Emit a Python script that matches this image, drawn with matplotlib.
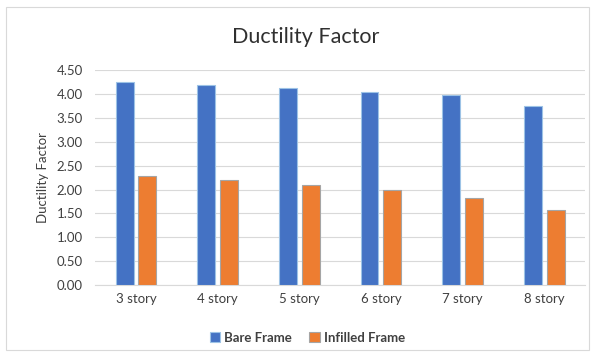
import matplotlib
matplotlib.use("Agg")
import matplotlib.pyplot as plt
import numpy as np

plt.rcParams["font.family"] = ["Lato", "DejaVu Sans"]

# data
categories = ["3 story", "4 story", "5 story", "6 story", "7 story", "8 story"]
bare_frame = [4.25, 4.18, 4.13, 4.04, 3.97, 3.74]
infilled_frame = [2.28, 2.20, 2.09, 1.99, 1.83, 1.57]
y_ticks = [0.0, 0.5, 1.0, 1.5, 2.0, 2.5, 3.0, 3.5, 4.0, 4.5]

BLUE = "#4472C4"
ORANGE = "#ED7D31"

fig = plt.figure(figsize=(5.91, 3.52), dpi=100)
ax = fig.add_axes([0.161, 0.19, 0.829, 0.611])

x = np.arange(len(categories))
w = 0.22
ax.bar(x - 0.14, bare_frame, width=w, color=BLUE, edgecolor="#9DC3E6",
       linewidth=0.8, label="Bare Frame", zorder=3)
ax.bar(x + 0.14, infilled_frame, width=w, color=ORANGE, edgecolor="#A5A5A5",
       linewidth=0.8, label="Infilled Frame", zorder=3)

ax.set_xlim(-0.5, len(categories) - 0.5)
ax.set_ylim(0, 4.5)
ax.set_yticks(y_ticks)
ax.set_yticklabels([f"{v:.2f}" for v in y_ticks])
ax.set_xticks(x)
ax.set_xticklabels(categories)
ax.tick_params(axis="y", length=0, labelsize=9.5, colors="#404040", pad=9)
ax.tick_params(axis="x", length=0, labelsize=9.5, colors="#404040", pad=6)
ax.grid(axis="y", color="#D9D9D9", linewidth=0.8, zorder=0)
for s in ["top", "right", "left"]:
    ax.spines[s].set_visible(False)
ax.spines["bottom"].set_color("#D9D9D9")
ax.spines["bottom"].set_linewidth(0.8)

ax.set_ylabel("Ductility Factor", fontsize=9.5, color="#404040", labelpad=5)
fig.text(0.518, 0.895, "Ductility Factor", ha="center", va="center",
         fontsize=15.5, color="#303030")

leg = fig.legend(loc="center", bbox_to_anchor=(0.52, 0.04), ncol=2,
                 frameon=False, fontsize=9.5, handlelength=0.8,
                 handleheight=0.8, handletextpad=0.3, columnspacing=1.3)
for t in leg.get_texts():
    t.set_color("#404040")
    t.set_fontweight("bold")

# light border round the chart
fig.patches.append(plt.Rectangle((0.010, 0.006), 0.986, 0.974, transform=fig.transFigure,
                                 fill=False, edgecolor="#D9D9D9", linewidth=0.8))

fig.savefig("out.png", dpi=100)
